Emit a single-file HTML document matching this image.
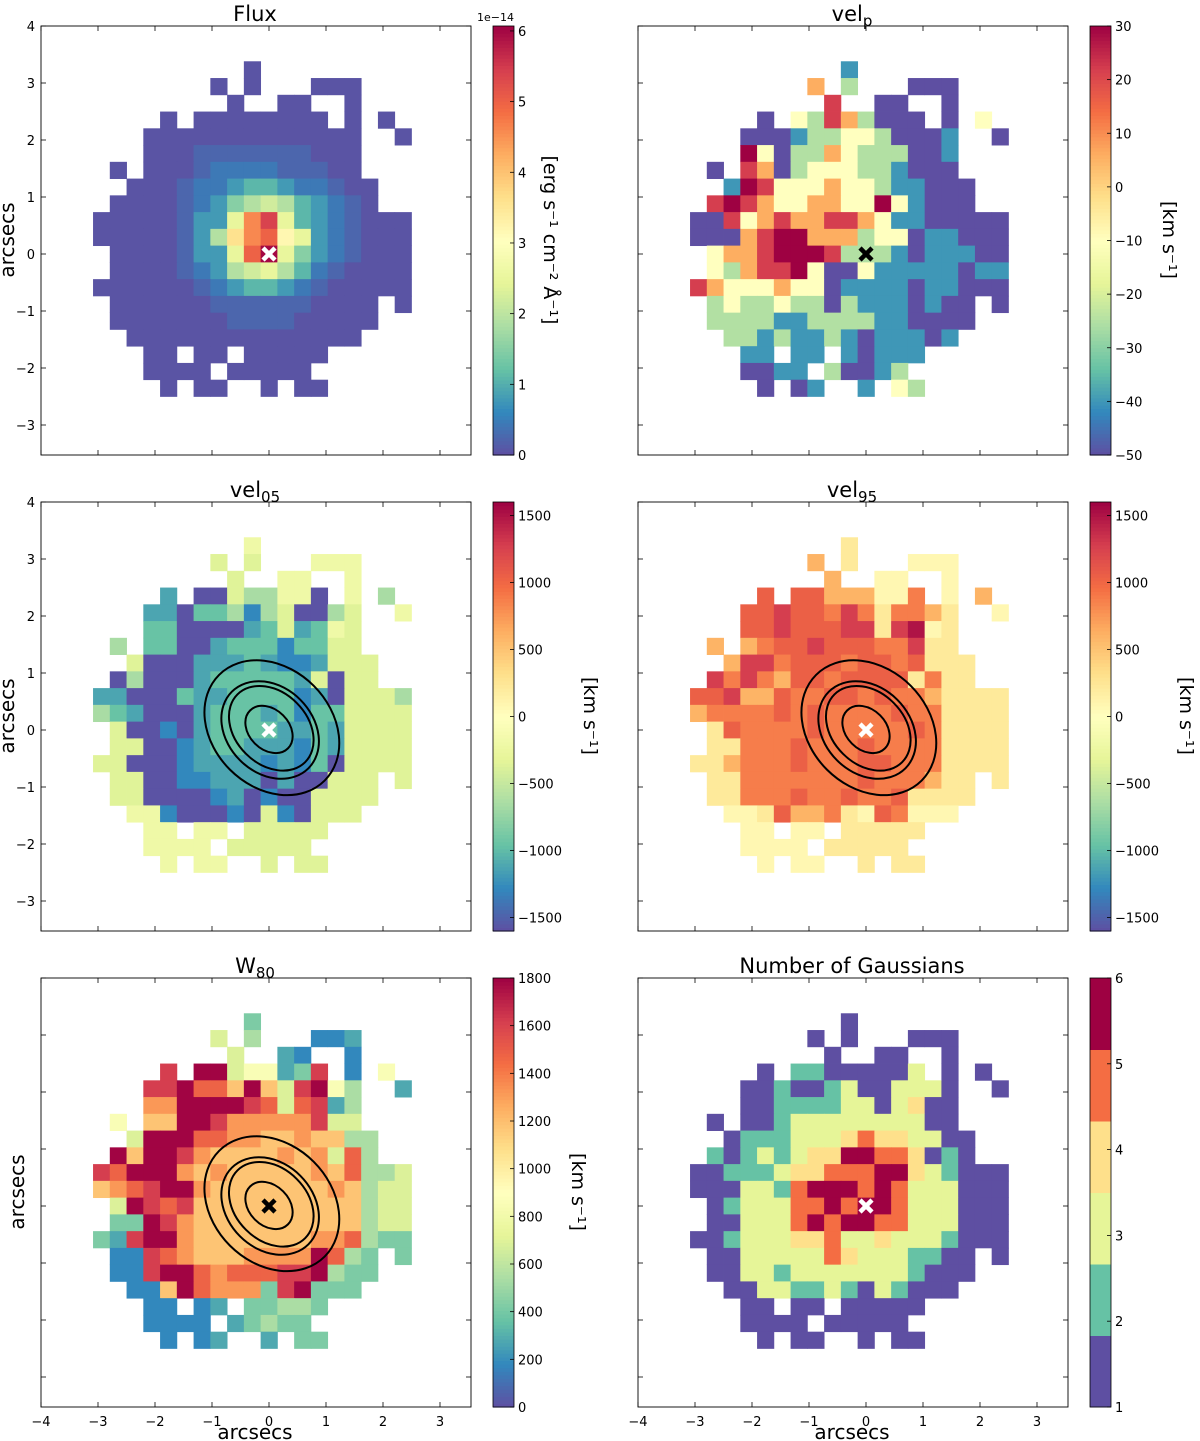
<!DOCTYPE html>
<html><head><meta charset="utf-8">
<style>
html,body{margin:0;padding:0;background:#fff;}
svg{display:block;font-family:"DejaVu Sans","Liberation Sans",sans-serif;}
</style></head>
<body>
<svg id="fig" width="1200" height="1441" viewBox="0 0 1200 1441" xmlns="http://www.w3.org/2000/svg"></svg>
<script>
// ---------- DATA ----------
const fluxRows=[
".........a.........",
".......a.a...aaa...",
"........a..aa..a...",
"....a.aaaaaaaa.a.a.",
"...aaaaaaaaaaaaa..a",
"...aaabbbbbbbaaa...",
".a.aaabccccbbbaa...",
"..aaabccdeedccbaa..",
".aaaabcdfghgedcba..",
"aaaaabddilniedcbaaa",
"aaaaabdgklmjidcbaaa",
".aaaabddimoifdcbaaa",
".aaaabcdghigecbaaaa",
"aaaaaabcdeedcbaaaaa",
".aaaaaabbbbbbaaaa.a",
".aaaaaaabbbbaaaaa..",
"..aaaaaaaaaaaaaa...",
"...aa.aa.aaaaa.....",
"...aaaa.aaaaa......",
"....a.aa..a.aa....."];
const fluxLevels={a:0.5,b:2.5,c:4.5,d:8,e:11,f:15,g:19,h:22,i:25,j:32,k:36,l:46,m:50,n:54,o:60};
const velpRows=[
".........T.........",
".......O.G...PPP...",
"........R..PP..P...",
"....P.YGROGPPP.P.Y.",
"...PPPTGGYYGPPPT..P",
"...CYPGGOYGGGPPT...",
".P.ROPGYYYGGTPPP...",
"..TCRYYYOYYGTTPPP..",
".RCROYYOOYYCYTPPP..",
"PPRYOROORROYTTPPPPP",
"PPPORCCOOOGYYPTTPPP",
".YOORCCCRGGGTPTTTPP",
".YGORRCYPPYTTTTTPTT",
"ROYYYOYYPTTTTPTTPPP",
".GYGGYGGPGTTTPTPP.P",
".GGGGTTGGGGTTPPPP..",
"..GGTGTTGTPTTTPT...",
"...TT.TT.TPTTT.....",
"...PPTT.GPPTG......",
"....P.PT..T.YG....."];
const velpLevels={P:-50,T:-40,G:-25,Y:-10,O:6,R:22,C:30};
const vel05Rows=[
".........Y.........",
".......L.L...YYY...",
"........L..YY..Y...",
"....T.PPLGGYYP.Y.G.",
"...TTPMMGBGLPPGL..Y",
"...MMPPPPTMLTMYL...",
".G.MMPPTMMMBMMLL...",
"..LPPPTTTMTBBTLLL..",
".PGPPPTMMMMMTLPLL..",
"TTPPPMTTMMMMBTPLLLG",
"GMTPPPTMMMTMBMMLLLL",
".LPPBPTMMMMTTMTLLLL",
".LLPPBTMMTTTBMTLLLL",
"LLPPPBTTTTBTBMPLLLL",
".LLPPBBTTTPTPPLLL.L",
".LLPPPPBTPBPPLLLL..",
"..YYBPPPBPLBPLLL...",
"...YY.YY.LLLLL.....",
"...YYYY.LLLLL......",
"....Y.YY..L.LL....."];
const vel05Levels={P:-1580,B:-1280,T:-1120,M:-950,G:-650,L:-350,Y:-200};
const vel95Rows=[
".........L.........",
".......A.L...YYY...",
"........A..YY..Y...",
"....R.RRAAAYYO.Y.A.",
"...RRDRRODOLOOAL..Y",
"...RRDRRRDDLDCYL...",
".A.AORRDRRROODLL...",
"..ADDORRRORRORLLL..",
".DODOARRORRRRLOLL..",
"RRDAAROORROROOALLLL",
"AOOOOROROOOOROOLLLL",
".LROOOOROOOOOROLLLL",
".LLOOOROOOROOOOLLLL",
"LLAOOOROOORROOOLLLL",
".LLOOOOOOOROOOALL.L",
".LLOOOROOROORLLLL..",
"..YYLRAAOLYROYYY...",
"...YY.YY.LLLLL.....",
"...YYYY.LLLLL......",
"....Y.YY..L.LL....."];
const vel95Levels={Y:80,L:220,A:600,O:880,R:1050,D:1280,C:1500};
const w80Rows=[
".........M.........",
".......L.G...BBT...",
"........L..TB..B...",
"....D.CCLYYTMD.B.Y.",
"...DDCRRACALDCYG..T",
"...OOCCCCDRLRDTG...",
".Y.AACCDOOOOODLL...",
"..LCCCRROOAAOAAGG..",
".CACCDOAAAAOAOLRG..",
"DRCCCOAOAAAAAOARGGL",
"AORDCCOAAAAAAAOAGLL",
".LCDRDAAAAAAAAAAGLL",
".MMCDOAAAAAAAAAAGLL",
"MTDCCOAAAAAAAOORGMM",
".BBDROAAAOOOOCRGM.M",
".BBDCCRORRRDDCGMM..",
"..BBACROOOMDCMMM...",
"...BB.BT.MMGGM.....",
"...BBBB.TMGMM......",
"....B.BT..T.MM....."];
const w80Levels={B:180,T:280,M:420,G:540,L:690,Y:860,A:1180,O:1320,R:1480,D:1620,C:1790};
const ngRows=[
".........1.........",
".......1.1...111...",
"........1..11..1...",
"....1.22111113.1.1.",
"...1121123113331..1",
"...1122223313411...",
".1.1123333333311...",
"..122233345443311..",
".2123234466554121..",
"1122234455566432111",
"1113325666565333111",
".123335565665333111",
".113335656655333111",
"1123334453343332111",
".1133333543332211.1",
".1133233333332111..",
"..11332232132111...",
"...11.11.11111.....",
"...1111.11111......",
"....1.11..1.11....."];
const ngLevels={"1":1,"2":2,"3":3,"4":4,"5":5,"6":6};
// contours (arcsec): centre x, centre y, semi-major, semi-minor
const contourCX=[0.05,0.02,0.04,0.0];
const contourCY=[0.04,0.0,0.03,0.01];
const contourA=[1.31,0.95,0.84,0.47];
const contourB=[1.04,0.75,0.63,0.35];
const xTicks=[-4,-3,-2,-1,0,1,2,3];
const yTicks=[4,3,2,1,0,-1,-2,-3];
const fluxCbTicks=[0,1,2,3,4,5,6];
const velpCbTicks=[-50,-40,-30,-20,-10,0,10,20,30];
const velCbTicks=[-1500,-1000,-500,0,500,1000,1500];
const w80CbTicks=[0,200,400,600,800,1000,1200,1400,1600,1800];
const ngCbTicks=[1,2,3,4,5,6];

// ---------- helpers ----------
const NS="http://www.w3.org/2000/svg";
const svg=document.getElementById('fig');
function mk(tag,attrs,parent){const e=document.createElementNS(NS,tag);for(const k in attrs)e.setAttribute(k,attrs[k]);(parent||svg).appendChild(e);return e;}
const stops=["#5e4fa2","#3288bd","#66c2a5","#abdda4","#e6f598","#ffffbf","#fee08b","#fdae61","#f46d43","#d53e4f","#9e0142"];
function hex(h){return [parseInt(h.slice(1,3),16),parseInt(h.slice(3,5),16),parseInt(h.slice(5,7),16)];}
function cmap(t){t=Math.max(0,Math.min(1,t));const p=t*10;const i=Math.min(9,Math.floor(p));const f=p-i;const a=hex(stops[i]),b=hex(stops[i+1]);
return "rgb("+a.map((v,k)=>Math.round(v+(b[k]-v)*f)).join(",")+")";}
const PX=57, CELL=0.294;
const fmt=v=>String(v).replace('-','\u2212');

const panels=[
 {key:'flux',title:'Flux',sub:'',rows:fluxRows,lev:fluxLevels,vmin:0,vmax:60.7,ox:269,top:26,cbx:493,ticks:fluxCbTicks,tickScale:10,ylab:true,xlab:false,yt:true,marker:'#fff',contour:false,cbl:'[erg s\u207B\u00B9 cm\u207B\u00B2 \u00C5\u207B\u00B9]',cblx:551,discrete:false,exp:'1e\u221214'},
 {key:'velp',title:'vel',sub:'p',rows:velpRows,lev:velpLevels,vmin:-50,vmax:30,ox:866,top:26,cbx:1090,ticks:velpCbTicks,tickScale:1,ylab:false,xlab:false,yt:false,marker:'#000',contour:false,cbl:'[km s\u207B\u00B9]',cblx:1170},
 {key:'vel05',title:'vel',sub:'05',rows:vel05Rows,lev:vel05Levels,vmin:-1600,vmax:1600,ox:269,top:502,cbx:493,ticks:velCbTicks,tickScale:1,ylab:true,xlab:false,yt:true,marker:'#fff',contour:true,cbl:'[km s\u207B\u00B9]',cblx:591},
 {key:'vel95',title:'vel',sub:'95',rows:vel95Rows,lev:vel95Levels,vmin:-1600,vmax:1600,ox:866,top:502,cbx:1090,ticks:velCbTicks,tickScale:1,ylab:false,xlab:false,yt:false,marker:'#fff',contour:true,cbl:'[km s\u207B\u00B9]',cblx:1187},
 {key:'w80',title:'W',sub:'80',rows:w80Rows,lev:w80Levels,vmin:0,vmax:1800,ox:269,top:978,cbx:493,ticks:w80CbTicks,tickScale:1,ylab:true,xlab:true,yt:false,marker:'#000',contour:true,cbl:'[km s\u207B\u00B9]',cblx:579},
 {key:'ngauss',title:'Number of Gaussians',sub:'',rows:ngRows,lev:ngLevels,vmin:1,vmax:6,ox:866,top:978,cbx:1090,ticks:ngCbTicks,tickScale:1,ylab:false,xlab:true,yt:false,marker:'#fff',contour:false,cbl:'',discrete:true}
];

panels.forEach(p=>{
 const H=429, oy=p.top+228;
 const xs=a=>p.ox+a*PX, ys=a=>oy-a*PX;
 const g=mk('g',{});
 
 
 const fx0=p.ox-228, fx1=p.ox+202;
 const cg=mk('g',{},g);
 
 
 p.rows.forEach((row,r)=>{
  for(let c=0;c<row.length;c++){
   const ch=row[c]; if(!(ch in p.lev)) continue;
   const v=p.lev[ch];
   const col=cmap((v-p.vmin)/(p.vmax-p.vmin));
   const cx=(c-10)*CELL, cy=(11-r)*CELL;
   const rc=mk('rect',{x:xs(cx-CELL/2).toFixed(2),y:ys(cy+CELL/2).toFixed(2),width:(CELL*PX+0.4).toFixed(2),height:(CELL*PX+0.4).toFixed(2),fill:col},cg);
   
   
  }
 });
 if(p.contour){
  for(let i=0;i<contourA.length;i++){
   const e=mk('ellipse',{cx:xs(contourCX[i]),cy:ys(contourCY[i]),rx:contourA[i]*PX,ry:contourB[i]*PX,fill:'none',stroke:'#000','stroke-width':2,transform:'rotate(45 '+xs(contourCX[i])+' '+ys(contourCY[i])+')'},g);
   
   
  }
 }
 const m=mk('g',{stroke:p.marker,'stroke-width':4.5,'stroke-linecap':'butt'},g);
 
 
 mk('line',{x1:xs(0)-6,y1:ys(0)-6,x2:xs(0)+6,y2:ys(0)+6},m);
 mk('line',{x1:xs(0)-6,y1:ys(0)+6,x2:xs(0)+6,y2:ys(0)-6},m);
 const fr=mk('rect',{x:fx0,y:p.top,width:fx1-fx0,height:H,fill:'none',stroke:'#000','stroke-width':0.9},g);
 
 
 xTicks.forEach(t=>{
  mk('line',{x1:xs(t),x2:xs(t),y1:p.top+H,y2:p.top+H-5,stroke:'#000','stroke-width':0.8},g);
  mk('line',{x1:xs(t),x2:xs(t),y1:p.top,y2:p.top+5,stroke:'#000','stroke-width':0.8},g);
  if(p.xlab){const tx=mk('text',{x:xs(t),y:p.top+H+19,'font-size':13,'text-anchor':'middle'},g);tx.textContent=fmt(t);
   
   }
 });
 yTicks.forEach(t=>{
  mk('line',{x1:fx0,x2:fx0+5,y1:ys(t),y2:ys(t),stroke:'#000','stroke-width':0.8},g);
  mk('line',{x1:fx1,x2:fx1-5,y1:ys(t),y2:ys(t),stroke:'#000','stroke-width':0.8},g);
  if(p.yt){const tx=mk('text',{x:fx0-6,y:ys(t)+5,'font-size':13,'text-anchor':'end'},g);tx.textContent=fmt(t);
   
   }
 });
 const tt=mk('text',{x:p.ox-14,y:p.top-5,'font-size':21,'text-anchor':'middle'},g);
 
 
 tt.appendChild(document.createTextNode(p.title));
 if(p.sub){const ts=mk('tspan',{'font-size':15,dy:5},tt);ts.textContent=p.sub;}
 if(p.ylab){const yl=mk('text',{x:0,y:0,'font-size':20,'text-anchor':'middle',transform:'translate('+(p.yt?14:24)+','+(oy-14)+') rotate(-90)'},g);yl.textContent='arcsecs';
  
  }
 if(p.xlab){const xl=mk('text',{x:p.ox-14,y:1439,'font-size':20,'text-anchor':'middle'},g);xl.textContent='arcsecs';
  
  }
 const cb=mk('g',{},g);
 
 
 const cw=21, cy0=p.top, cy1=p.top+H;
 const cs=v=>cy1-(v-p.vmin)/(p.vmax-p.vmin)*H;
 if(p.discrete){
  const n=6;
  for(let i=0;i<n;i++){mk('rect',{x:p.cbx,y:cy1-(i+1)*H/n,width:cw,height:H/n+0.5,fill:cmap(i/(n-1))},cb);}
 } else {
  const N=120;
  for(let i=0;i<N;i++){mk('rect',{x:p.cbx,y:cy1-(i+1)*H/N,width:cw,height:H/N+0.6,fill:cmap((i+0.5)/N)},cb);}
 }
 mk('rect',{x:p.cbx,y:cy0,width:cw,height:H,fill:'none',stroke:'#000','stroke-width':0.8},cb);
 p.ticks.forEach(t=>{
  const v=t*p.tickScale;
  const y=cs(v);
  mk('line',{x1:p.cbx+cw-4,x2:p.cbx+cw,y1:y,y2:y,stroke:'#000','stroke-width':0.8},cb);
  const tl=mk('text',{x:p.cbx+cw+4,y:y+5,'font-size':13},cb);tl.textContent=fmt(t);
  
  
 });
 if(p.exp){const ex=mk('text',{x:p.cbx+cw,y:p.top-5,'font-size':11,'text-anchor':'end'},cb);ex.textContent=p.exp;
  
  }
 if(p.cbl){const cl=mk('text',{x:0,y:0,'font-size':19,'text-anchor':'middle',transform:'translate('+(p.cblx-7)+','+(p.top+214)+') rotate(90)'},cb);cl.textContent=p.cbl;
  
  }
});
</script>
</body></html>
